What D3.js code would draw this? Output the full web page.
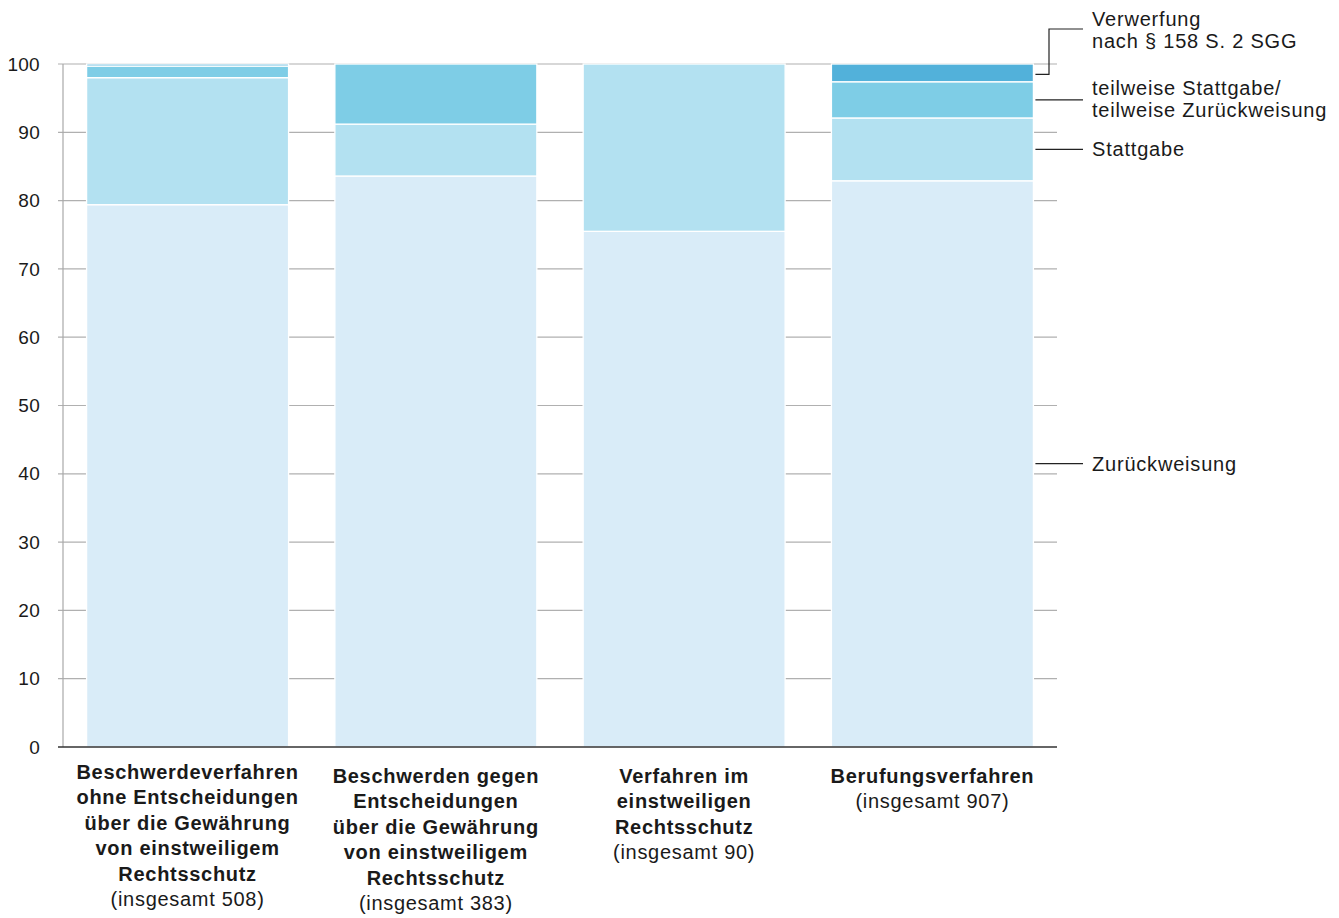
<!DOCTYPE html>
<html><head><meta charset="utf-8">
<script src="https://cdn.jsdelivr.net/npm/d3@7"></script>
<style>
body{margin:0;background:#fff;}
text{font-family:"Liberation Sans",Arial,Helvetica,sans-serif;fill:#1a1a1a;}
</style></head>
<body>
<svg id="chart" width="1339" height="918"></svg>
<script>
const categories = ["bv","bg","ve","be"];
const catLabels = [
  ["Beschwerdeverfahren","ohne Entscheidungen","über die Gewährung","von einstweiligem","Rechtsschutz"],
  ["Beschwerden gegen","Entscheidungen","über die Gewährung","von einstweiligem","Rechtsschutz"],
  ["Verfahren im","einstweiligen","Rechtsschutz"],
  ["Berufungsverfahren"]
];
const totals = ["(insgesamt 508)","(insgesamt 383)","(insgesamt 90)","(insgesamt 907)"];
const seriesNames = ["Zurückweisung","Stattgabe","teilweise","Verwerfung"];
const zurueckweisung = [79.4, 83.6, 75.5, 82.9];
const stattgabe      = [18.6, 7.6, 24.5, 9.2];
const teilweise      = [1.7, 8.8, 0, 5.3];
const verwerfung     = [0.3, 0, 0, 2.6];
const yTicks = [0,10,20,30,40,50,60,70,80,90,100];
const colors = ["#d9ecf8","#b3e1f1","#7ecde6","#52b1da"];

const svg = d3.select("#chart");
const x = d3.scaleBand().domain(categories).range([63,1057]).paddingInner(0.1865).paddingOuter(0.095);
const y = d3.scaleLinear().domain([0,100]).range([747,64]);

// gridlines
svg.append("g").selectAll("line").data(yTicks.filter(d=>d>0)).join("line")
  .attr("x1",58).attr("x2",1057).attr("y1",d=>y(d)).attr("y2",d=>y(d))
  .attr("stroke","#b0b0b0").attr("stroke-width",1.2);
// y axis line
svg.append("line").attr("x1",63).attr("x2",63).attr("y1",y(100)).attr("y2",y(0))
  .attr("stroke","#a8a8a8").attr("stroke-width",1.2);

// stacked bars
const rows = categories.map((c,i)=>({cat:c, Zurückweisung:zurueckweisung[i], Stattgabe:stattgabe[i], teilweise:teilweise[i], Verwerfung:verwerfung[i]}));
const stack = d3.stack().keys(seriesNames)(rows);
svg.append("g").selectAll("g").data(stack).join("g")
  .attr("fill",(d,i)=>colors[i])
  .selectAll("rect").data(d=>d.filter(s=>s[1]-s[0]>0)).join("rect")
  .attr("x",d=>x(d.data.cat)).attr("width",x.bandwidth())
  .attr("y",d=>y(d[1])).attr("height",d=>y(d[0])-y(d[1]))
  .attr("stroke","#fff").attr("stroke-width",1.3);

// baseline
svg.append("line").attr("x1",58).attr("x2",1057).attr("y1",y(0)).attr("y2",y(0))
  .attr("stroke","#333").attr("stroke-width",1.5);

// y tick labels
svg.append("g").selectAll("text").data(yTicks).join("text")
  .attr("x",40).attr("y",d=>y(d)).attr("dy","0.35em").attr("text-anchor","end")
  .attr("font-size",19).attr("letter-spacing","0.3px").text(d=>d);

// category labels
const lh = 25.4;
categories.forEach((c,i)=>{
  const cx = x(c)+x.bandwidth()/2;
  const y0 = i===0 ? 779 : 783;
  const t = svg.append("text").attr("text-anchor","middle").attr("font-size",20).attr("letter-spacing","0.7px");
  catLabels[i].forEach((l,j)=>{
    t.append("tspan").attr("x",cx).attr("y",y0+j*lh).attr("font-weight","bold").text(l);
  });
  t.append("tspan").attr("x",cx).attr("y",y0+catLabels[i].length*lh).text(totals[i]);
});

// legend leaders (anchored to last bar's segments)
const lastIdx = categories.length-1;
const bx = x(categories[lastIdx])+x.bandwidth()+2;
const lx = 1083;
const mid = k => { const s = stack[k][lastIdx]; return y((s[0]+s[1])/2); };
const lineAttr = sel => sel.attr("stroke","#222").attr("stroke-width",1.2).attr("fill","none");
const lg = svg.append("g").attr("font-size",20).attr("letter-spacing","0.8px");
// Zurückweisung
lineAttr(svg.append("path").attr("d",`M${bx},${y(41.5)}H${lx}`));
lg.append("text").attr("x",1092).attr("y",y(41.5)).attr("dy","0.35em").text("Zurückweisung");
// Stattgabe
lineAttr(svg.append("path").attr("d",`M${bx},${y(87.5)}H${lx}`));
lg.append("text").attr("x",1092).attr("y",y(87.5)).attr("dy","0.35em").text("Stattgabe");
// teilweise
lineAttr(svg.append("path").attr("d",`M${bx},${mid(2)}H${lx}`));
const tt = lg.append("text");
tt.append("tspan").attr("x",1092).attr("y",mid(2)-4.5).text("teilweise Stattgabe/");
tt.append("tspan").attr("x",1092).attr("y",mid(2)+17.5).text("teilweise Zurückweisung");
// Verwerfung
lineAttr(svg.append("path").attr("d",`M${bx},${mid(3)+1.5}H1049V29H${lx}`));
const tv = lg.append("text");
tv.append("tspan").attr("x",1092).attr("y",26).text("Verwerfung");
tv.append("tspan").attr("x",1092).attr("y",48).text("nach § 158 S. 2 SGG");
</script>
</body></html>
